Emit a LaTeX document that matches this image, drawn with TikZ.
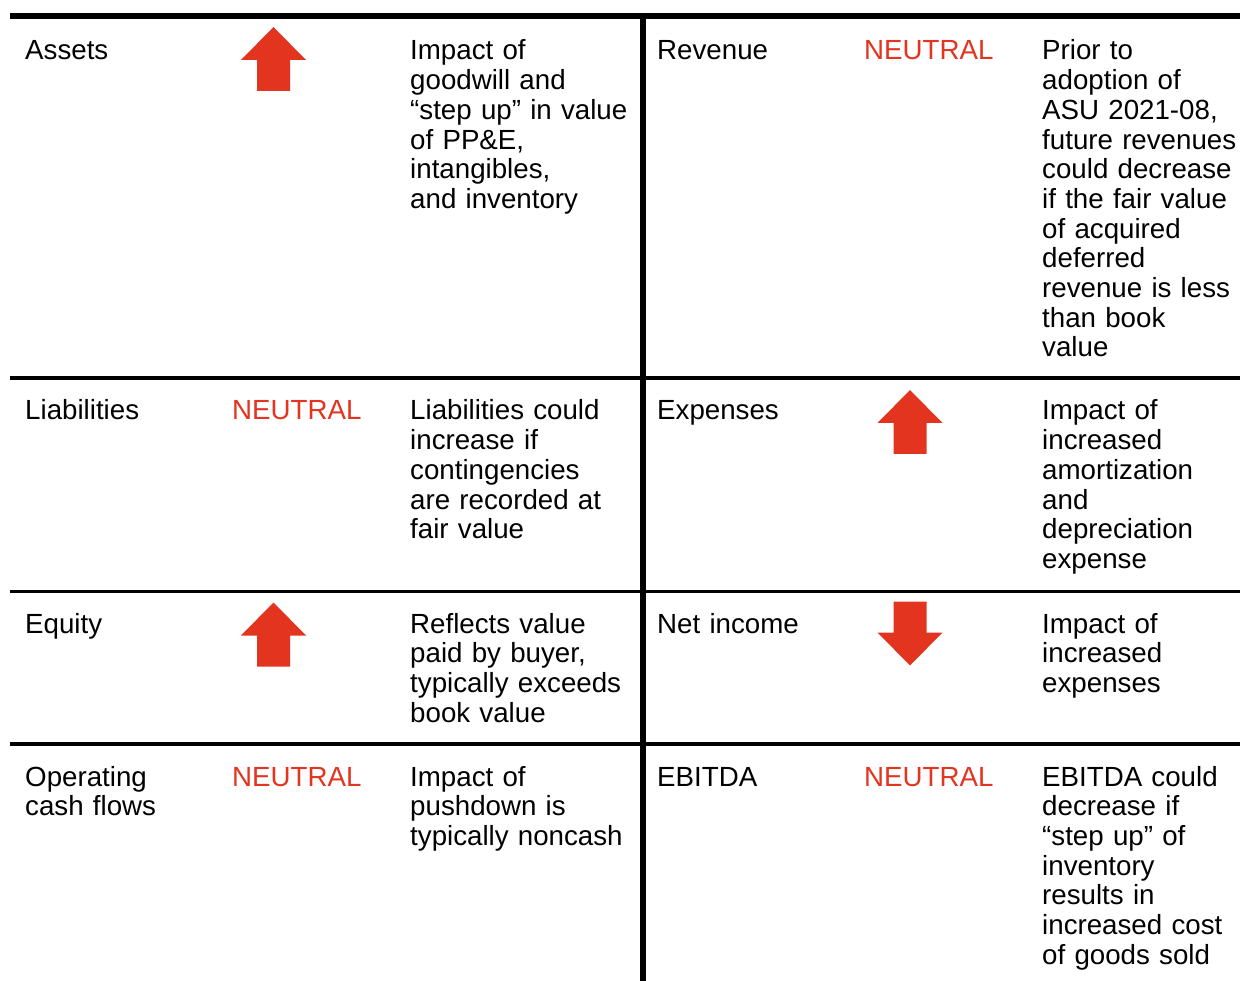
\documentclass[tikz,border=0pt]{standalone}
\usepackage{fontspec}
\setmainfont{Liberation Sans}
\usepackage{xcolor}
\definecolor{pushred}{HTML}{E2341F}

\begin{document}
\begin{tikzpicture}[x=1pt,y=-1pt,
  cell/.style={anchor=base west,inner sep=0,text width=300pt,align=left,
    font=\fontsize{27.7}{29.7}\selectfont},
  neutral/.style={cell,text=pushred},
  rule/.style={line width=3.5pt},
  heavy/.style={line width=5.5pt},
  uparrow/.pic={\fill[pushred] (0,-32) -- (32.5,1) -- (16.5,1) -- (16.5,32)
    -- (-16.5,32) -- (-16.5,1) -- (-32.5,1) -- cycle;}
]
\useasboundingbox (0,0) rectangle (1240,981);
\coordinate (tl) at (10,16);
\coordinate (tr) at (1240,16);
\coordinate (vt) at (643,16);
\coordinate (vb) at (643,981);
\draw[heavy] (tl) -- (tr);
\draw[heavy] (vt) -- (vb);
\foreach \y/\n in {378/a,591.5/b,744/c}{
  \coordinate (l\n) at (10,\y);
  \coordinate (r\n) at (1240,\y);
  \draw[rule] (l\n) -- (r\n);
}

% left half
\node[cell] (assets) at (25,60) {Assets};
\pic at (273.5,59) {uparrow};
\node[cell] (assetsnote) at (410,60) {Impact of\\goodwill and\\“step up” in value\\of PP\&E,\\intangibles,\\and inventory};

\node[cell] (liab) at (25,420) {Liabilities};
\node[neutral] (liabflag) at (232,420) {NEUTRAL};
\node[cell] (liabnote) at (410,420) {Liabilities could\\increase if\\contingencies\\are recorded at\\fair value};

\node[cell] (equity) at (25,633) {Equity};
\pic at (273.5,634.5) {uparrow};
\node[cell] (equitynote) at (410,633) {Reflects value\\paid by buyer,\\typically exceeds\\book value};

\node[cell] (cash) at (25,786) {Operating\\cash flows};
\node[neutral] (cashflag) at (232,786) {NEUTRAL};
\node[cell] (cashnote) at (410,786) {Impact of\\pushdown is\\typically noncash};

% right half
\node[cell] (rev) at (657,60) {Revenue};
\node[neutral] (revflag) at (864,60) {NEUTRAL};
\node[cell] (revnote) at (1042,60) {Prior to\\adoption of\\ASU 2021-08,\\future revenues\\could decrease\\if the fair value\\of acquired\\deferred\\revenue is less\\than book\\value};

\node[cell] (exp) at (657,420) {Expenses};
\pic at (910,422) {uparrow};
\node[cell] (expnote) at (1042,420) {Impact of\\increased\\amortization\\and\\depreciation\\expense};

\node[cell] (netinc) at (657,633) {Net income};
\pic[yscale=-1] at (910,633.5) {uparrow};
\node[cell] (netincnote) at (1042,633) {Impact of\\increased\\expenses};

\node[cell] (ebitda) at (657,786) {EBITDA};
\node[neutral] (ebitdaflag) at (864,786) {NEUTRAL};
\node[cell] (ebitdanote) at (1042,786) {EBITDA could\\decrease if\\“step up” of\\inventory\\results in\\increased cost\\of goods sold};
\end{tikzpicture}
\end{document}
